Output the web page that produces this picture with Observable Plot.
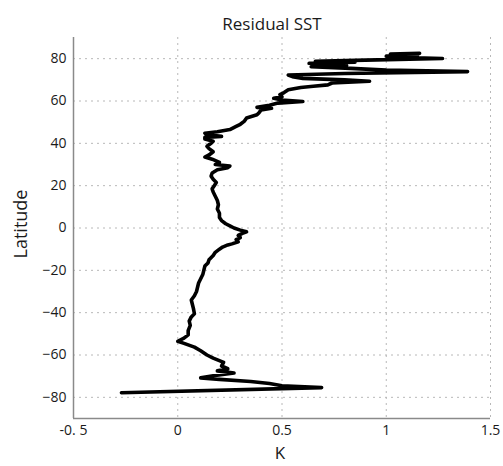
<!DOCTYPE html>
<html><head><meta charset="utf-8">
<script src="https://cdn.jsdelivr.net/npm/d3@7"></script>
<script src="https://cdn.jsdelivr.net/npm/@observablehq/plot@0.6"></script>
<style>body{margin:0;background:#fff;}</style>
</head><body><div id="chart"></div>
<script>
const title = "Residual SST";
const xLabel = "K";
const yLabel = "Latitude";
const xTicks = [-0.5, 0, 0.5, 1, 1.5];
const xTickLabels = ["-0. 5", "0", "0.5", "1", "1.5"];
const yTicks = [-80, -60, -40, -20, 0, 20, 40, 60, 80];

const latitude = [
  -77.8, -75.4, -74.5, -73.5, -72.5, -71.5, -70.8, -69.8, -68.5, -67.5,
  -66.5, -65.2, -63.5, -61.5, -60, -58, -56.3, -54.5, -53.5, -52,
  -50.5, -48.5, -46, -44, -42, -40.5, -38, -36, -34, -32,
  -30, -28, -26, -24, -22, -20, -18, -16.5, -15, -13,
  -11.5, -10, -9, -8, -7.5, -6.5, -5.5, -4.5, -3.5, -2.5,
  -1.8, -1, 0, 1, 2, 3.5, 5, 7, 9, 11,
  13, 15, 17, 18.5, 20, 21.5, 23, 24.5, 26, 27.5,
  28.5, 29.3, 30, 31, 32.5, 33.5, 34.5, 36, 37.5, 38.6,
  40, 41, 42, 42.8, 43.3, 44, 44.8, 45.5, 46.5, 48,
  49, 50.5, 52, 53.5, 54.5, 55.8, 56.6, 57, 58, 59,
  59.8, 60.5, 61.3, 62, 63, 64, 65.3, 66.4, 67, 67.6,
  68.5, 69.3, 70, 70.7, 71.5, 72.3, 73, 73.9, 74.6, 75.4,
  76.2, 76.7, 77.2, 77.8, 78.3, 78.8, 79.3, 80.1, 80.6, 81.2,
  81.7, 82.2, 82.5
];
const residualK = [
  -0.27, 0.69, 0.50, 0.44, 0.35, 0.20, 0.11, 0.17, 0.27, 0.19,
  0.24, 0.21, 0.22, 0.17, 0.14, 0.11, 0.08, 0.03, 0.0, 0.03,
  0.05, 0.05, 0.06, 0.055, 0.065, 0.08, 0.075, 0.07, 0.065, 0.08,
  0.09, 0.095, 0.10, 0.11, 0.12, 0.125, 0.13, 0.145, 0.15, 0.17,
  0.18, 0.20, 0.215, 0.24, 0.26, 0.29, 0.28, 0.30, 0.29, 0.31,
  0.33, 0.30, 0.27, 0.25, 0.23, 0.21, 0.20, 0.20, 0.19, 0.195,
  0.19, 0.18, 0.17, 0.165, 0.175, 0.185, 0.17, 0.16, 0.165, 0.19,
  0.24, 0.25, 0.18, 0.20, 0.165, 0.13, 0.15, 0.17, 0.15, 0.14,
  0.16, 0.17, 0.13, 0.13, 0.21, 0.14, 0.13, 0.19, 0.25, 0.28,
  0.30, 0.32, 0.33, 0.38, 0.39, 0.40, 0.45, 0.38, 0.44, 0.48,
  0.60, 0.50, 0.46, 0.50, 0.49, 0.51, 0.53, 0.59, 0.65, 0.72,
  0.74, 0.92, 0.80, 0.60, 0.55, 0.53, 0.80, 1.39, 1.00, 0.83,
  0.64, 0.81, 0.70, 0.63, 0.85, 0.66, 0.90, 1.27, 1.05, 1.00,
  1.15, 1.02, 1.16
];

const data = latitude.map((lat, i) => ({lat, k: residualK[i]}));
const font = "'Open Sans', 'DejaVu Sans', sans-serif";
const ink = "#1a1a1a";

const chart = Plot.plot({
  width: 503, height: 466,
  marginLeft: 73, marginRight: 13, marginTop: 37, marginBottom: 48,
  x: {domain: [-0.5, 1.5]},
  y: {domain: [-90, 90]},
  style: {fontFamily: font, background: "#fff", color: ink},
  marks: [
    Plot.gridX(xTicks.slice(1), {stroke: "#b8b8b8", strokeOpacity: 1, strokeDasharray: "2,4"}),
    Plot.gridY(yTicks, {stroke: "#b8b8b8", strokeOpacity: 1, strokeDasharray: "2,4"}),
    Plot.ruleX([-0.5], {stroke: "#8a8a8a", strokeWidth: 1.5}),
    Plot.ruleY([-90], {stroke: "#8a8a8a", strokeWidth: 1.5}),
    Plot.axisX(xTicks, {anchor: "bottom", tickSize: 0, tickPadding: 7, fontSize: 14, label: null, fill: ink,
      tickFormat: (d) => xTickLabels[xTicks.indexOf(d)]}),
    Plot.axisY(yTicks, {anchor: "left", tickSize: 0, tickPadding: 7, fontSize: 14, label: null, fill: ink}),
    Plot.line(data, {x: "k", y: "lat", stroke: "#000", strokeWidth: 3.6, strokeLinejoin: "round", strokeLinecap: "round"}),
    Plot.text([title], {frameAnchor: "top", dy: -20, dx: -10, fontSize: 17, fill: ink}),
    Plot.text([xLabel], {frameAnchor: "bottom", dy: 40, dx: -2, fontSize: 17, fill: ink}),
    Plot.text([yLabel], {frameAnchor: "left", textAnchor: "middle", dx: -52, dy: -4, rotate: -90, fontSize: 18, fill: ink})
  ]
});
document.getElementById("chart").append(chart);
</script>
</body></html>
